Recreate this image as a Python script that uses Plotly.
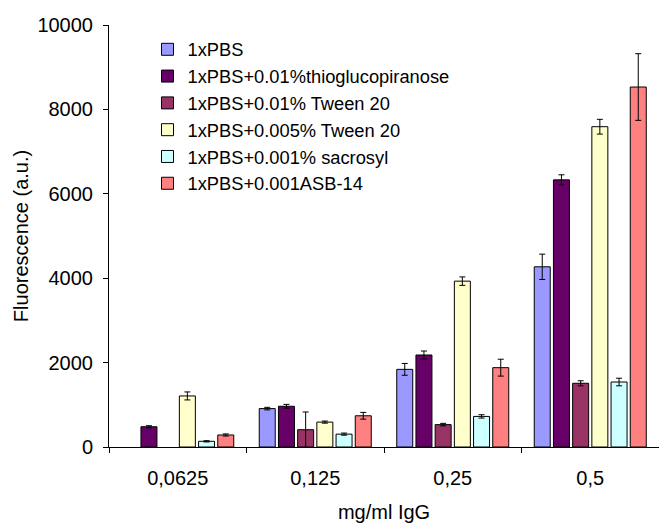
import plotly.graph_objects as go

categories = ["0,0625", "0,125", "0,25", "0,5"]

series_names = [
    "1xPBS",
    "1xPBS+0.01%thioglucopiranose",
    "1xPBS+0.01% Tween 20",
    "1xPBS+0.005% Tween 20",
    "1xPBS+0.001% sacrosyl",
    "1xPBS+0.001ASB-14",
]

pbs = [None, 910, 1840, 4270]
thio = [480, 965, 2180, 6330]
tween01 = [None, 410, 530, 1510]
tween005 = [1210, 590, 3930, 7590]
sacrosyl = [135, 305, 725, 1540]
asb14 = [285, 740, 1880, 8530]

pbs_err = [0, 30, 140, 300]
thio_err = [25, 45, 95, 120]
tween01_err = [0, 420, 30, 60]
tween005_err = [95, 25, 100, 175]
sacrosyl_err = [15, 25, 40, 90]
asb14_err = [25, 80, 200, 790]

colors = ["#9999FF", "#660066", "#993366", "#FFFFCC", "#CCFFFF", "#FF8080"]

values = [pbs, thio, tween01, tween005, sacrosyl, asb14]
errors = [pbs_err, thio_err, tween01_err, tween005_err, sacrosyl_err, asb14_err]

FONT = "Liberation Sans, Arial, sans-serif"

fig = go.Figure()
for name, vals, errs, col in zip(series_names, values, errors, colors):
    fig.add_trace(go.Bar(
        name=name,
        x=categories,
        y=vals,
        marker=dict(color=col, line=dict(color="black", width=1)),
        error_y=dict(type="data", array=errs, visible=True,
                     color="black", thickness=1, width=3),
    ))

fig.update_layout(
    width=659, height=523,
    barmode="group",
    bargap=0.162,
    bargroupgap=0.167,
    plot_bgcolor="white",
    paper_bgcolor="white",
    font=dict(family=FONT, size=20, color="black"),
    margin=dict(l=109, r=0, t=25, b=76, autoexpand=False),
    legend=dict(
        x=0.07, y=0.986, xanchor="left", yanchor="top",
        font=dict(family=FONT, size=18.3, color="black"),
        bgcolor="rgba(0,0,0,0)",
        itemwidth=30,
    ),
    showlegend=True,
)

fig.update_xaxes(
    showline=True, linecolor="black", linewidth=1,
    ticks="outside", tickson="boundaries", ticklen=5, tickcolor="black",
    showgrid=False, automargin=False,
    ticklabelstandoff=13,
    tickfont=dict(family=FONT, size=20),
    title=dict(text="mg/ml IgG", font=dict(family=FONT, size=20), standoff=20),
)
fig.update_yaxes(
    range=[0, 10000], dtick=2000, tickformat="d",
    showline=True, linecolor="black", linewidth=1,
    ticks="outside", ticklen=5, tickcolor="black",
    showgrid=False, zeroline=False, automargin=False,
    ticklabelstandoff=6,
    tickfont=dict(family=FONT, size=20),
    title=dict(text="Fluorescence (a.u.)", font=dict(family=FONT, size=20), standoff=3),
)

fig.write_html("out.html", config={"displayModeBar": False},
               post_script="document.body.style.margin='0';")
